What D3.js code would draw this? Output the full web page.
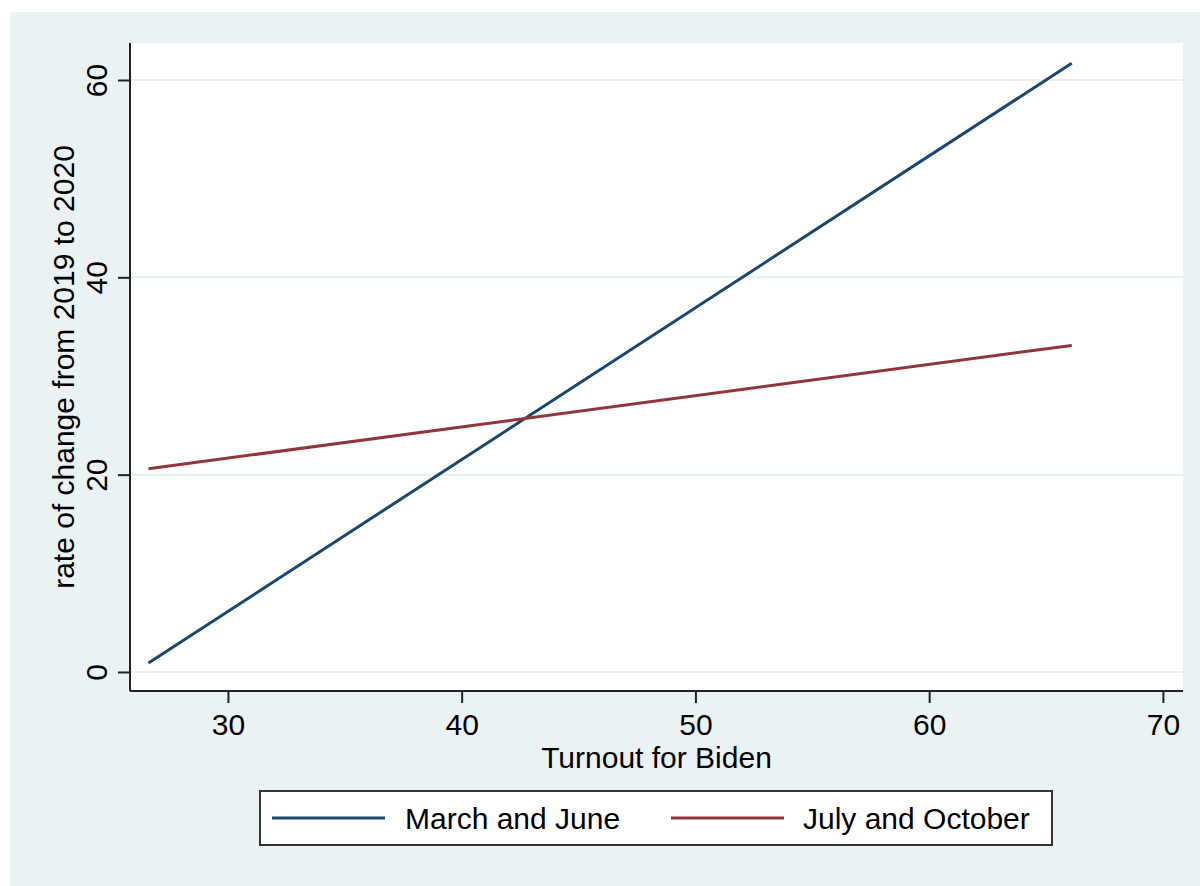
<!DOCTYPE html>
<html>
<head>
<meta charset="utf-8">
<script src="https://cdn.jsdelivr.net/npm/d3@7"></script>
<style>
  html, body { margin: 0; padding: 0; background: #ffffff; }
  svg { display: block; }
  text { font-family: "Liberation Sans", Arial, sans-serif; fill: #000; }
</style>
</head>
<body>
<svg id="chart" width="1200" height="886"></svg>
<script>
// ---- data ----
const seriesNames = ["March and June", "July and October"];
const seriesColors = ["#1A476F", "#90353B"];
const marchJune = [{x: 26.6, y: 0.9}, {x: 66.1, y: 61.7}];
const julyOctober = [{x: 26.6, y: 20.6}, {x: 66.1, y: 33.1}];
const xTicks = [30, 40, 50, 60, 70];
const yTicks = [0, 20, 40, 60];
const xTitle = "Turnout for Biden";
const yTitle = "rate of change from 2019 to 2020";

const svg = d3.select("#chart");
const W = 1200, H = 886;
const plot = {left: 130, right: 1183, top: 43, bottom: 691};
const bg = "#EAF2F3";
const fontSize = 30;

// outer background
svg.append("rect").attr("x", 10).attr("y", 12).attr("width", W - 10).attr("height", H - 12).attr("fill", bg);
// plot region
svg.append("rect").attr("x", plot.left).attr("y", plot.top)
  .attr("width", plot.right - plot.left).attr("height", plot.bottom - plot.top).attr("fill", "#fff");

const x = d3.scaleLinear().domain([25.81, 70.86]).range([plot.left, plot.right]);
const y = d3.scaleLinear().domain([-1.93, 63.75]).range([plot.bottom, plot.top]);

// gridlines
svg.append("g").selectAll("line").data(yTicks).join("line")
  .attr("x1", plot.left).attr("x2", plot.right)
  .attr("y1", d => y(d)).attr("y2", d => y(d))
  .attr("stroke", "#E6EFF1").attr("stroke-width", 2);

// lines
const lineGen = d3.line().x(d => x(d.x)).y(d => y(d.y));
[marchJune, julyOctober].forEach((s, i) => {
  svg.append("path").datum(s).attr("d", lineGen)
    .attr("fill", "none").attr("stroke", seriesColors[i]).attr("stroke-width", 3);
});

// axes
const xAxis = d3.axisBottom(x).tickValues(xTicks).tickSize(12).tickPadding(11).tickFormat(d3.format("d"));
const gx = svg.append("g").attr("transform", `translate(0,${plot.bottom})`).call(xAxis);
gx.select(".domain").attr("d", `M${plot.left},0H${plot.right}`).attr("stroke", "#222").attr("stroke-width", 2);
gx.selectAll(".tick line").attr("stroke", "#222").attr("stroke-width", 2);
gx.selectAll(".tick text").attr("font-size", fontSize).attr("font-family", "Liberation Sans, Arial, sans-serif").attr("fill", "#000");

const yAxis = d3.axisLeft(y).tickValues(yTicks).tickSize(12).tickPadding(10).tickFormat(d3.format("d"));
const gy = svg.append("g").attr("transform", `translate(${plot.left},0)`).call(yAxis);
gy.select(".domain").attr("d", `M0,${plot.top}V${plot.bottom}`).attr("stroke", "#222").attr("stroke-width", 2);
gy.selectAll(".tick line").attr("stroke", "#222").attr("stroke-width", 2);
gy.selectAll(".tick text")
  .attr("font-size", fontSize).attr("font-family", "Liberation Sans, Arial, sans-serif").attr("fill", "#000")
  .attr("x", null).attr("dy", null)
  .attr("text-anchor", "middle")
  .attr("transform", "translate(-23,0) rotate(-90)");

// axis titles
svg.append("text").attr("x", (plot.left + plot.right) / 2).attr("y", 768)
  .attr("text-anchor", "middle").attr("font-size", fontSize).text(xTitle);
svg.append("text").attr("transform", `translate(74,${(plot.top + plot.bottom) / 2}) rotate(-90)`)
  .attr("text-anchor", "middle").attr("font-size", fontSize).text(yTitle);

// legend
const lg = svg.append("g");
lg.append("rect").attr("x", 260).attr("y", 791).attr("width", 792).attr("height", 54)
  .attr("fill", "#fff").attr("stroke", "#333").attr("stroke-width", 2);
const legendItems = [
  {lx1: 272, lx2: 385, tx: 405},
  {lx1: 671, lx2: 784, tx: 803}
];
seriesNames.forEach((name, i) => {
  const it = legendItems[i];
  lg.append("line").attr("x1", it.lx1).attr("x2", it.lx2).attr("y1", 818).attr("y2", 818)
    .attr("stroke", seriesColors[i]).attr("stroke-width", 3);
  lg.append("text").attr("x", it.tx).attr("y", 829).attr("font-size", fontSize).text(name);
});
</script>
</body>
</html>
